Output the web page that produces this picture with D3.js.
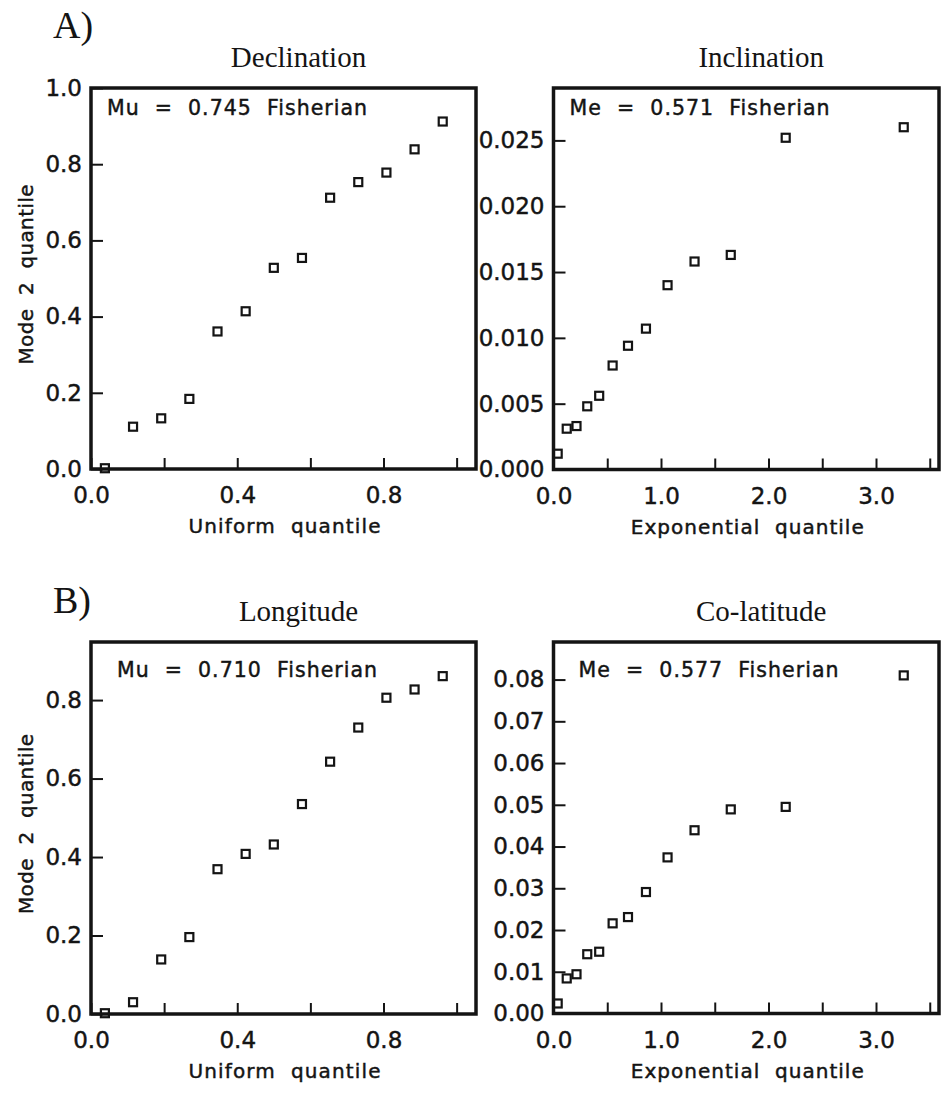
<!DOCTYPE html>
<html>
<head>
<meta charset="utf-8">
<script src="https://cdn.jsdelivr.net/npm/d3@7"></script>
<style>
  html, body { margin: 0; padding: 0; background: #fff; }
  svg { display: block; }
  text { white-space: pre; }
</style>
</head>
<body>
<svg id="chart" width="946" height="1097"></svg>
<script>
// Quantile-quantile plots of mode 2 directions against uniform / exponential reference quantiles
const uniformQuantile = [0.038, 0.115, 0.192, 0.269, 0.346, 0.423, 0.500, 0.577, 0.654, 0.731, 0.808, 0.885, 0.962];
const exponentialQuantile = [0.039, 0.123, 0.214, 0.314, 0.425, 0.550, 0.693, 0.860, 1.061, 1.312, 1.649, 2.160, 3.258];

const declinationQuantile = [0.002, 0.111, 0.133, 0.184, 0.361, 0.414, 0.528, 0.554, 0.712, 0.753, 0.778, 0.839, 0.912];
const inclinationQuantile = [0.0012, 0.0031, 0.0033, 0.0048, 0.0056, 0.0079, 0.0094, 0.0107, 0.0140, 0.0158, 0.0163, 0.0252, 0.0260];
const longitudeQuantile = [0.002, 0.030, 0.139, 0.196, 0.369, 0.408, 0.432, 0.535, 0.643, 0.730, 0.806, 0.827, 0.861];
const colatitudeQuantile = [0.0024, 0.0084, 0.0094, 0.0142, 0.0148, 0.0216, 0.0231, 0.0291, 0.0374, 0.0439, 0.0489, 0.0495, 0.0810];

const panelTitles = ["Declination", "Inclination", "Longitude", "Co-latitude"];
const statLabels = ["Mu  =  0.745  Fisherian", "Me  =  0.571  Fisherian", "Mu  =  0.710  Fisherian", "Me  =  0.577  Fisherian"];
const groupLabels = ["A)", "B)"];
const xTitles = ["Uniform  quantile", "Exponential  quantile"];
const yTitle = "Mode  2  quantile";

// Axis ticks (minor ticks unlabeled)
const uniformTicks = [0.0, 0.2, 0.4, 0.6, 0.8, 1.0];
const uniformTickLabels = [0.0, 0.4, 0.8];
const exponentialTicks = [0.0, 0.5, 1.0, 1.5, 2.0, 2.5, 3.0, 3.5];
const exponentialTickLabels = [0.0, 1.0, 2.0, 3.0];
const declinationTicks = [0.0, 0.2, 0.4, 0.6, 0.8, 1.0];
const inclinationTicks = [0.000, 0.005, 0.010, 0.015, 0.020, 0.025];
const longitudeTicks = [0.0, 0.2, 0.4, 0.6, 0.8];
const colatitudeTicks = [0.00, 0.01, 0.02, 0.03, 0.04, 0.05, 0.06, 0.07, 0.08];

// Panel layout
const SANS = "'DejaVu Sans', sans-serif";
const SERIF = "'Liberation Serif', 'Times New Roman', serif";
const INK = "#141414";
const panels = [
  { left: 91, right: 476, top: 88, bottom: 469, xMax: 1.053, yMax: 1.0,
    x: uniformQuantile, y: declinationQuantile, xt: uniformTicks, xl: uniformTickLabels, xfmt: ".1f",
    yt: declinationTicks, yfmt: ".1f", title: panelTitles[0], stat: statLabels[0], statDx: 16, statDy: 27, xTitle: xTitles[0], yTitle: true },
  { left: 553.5, right: 939, top: 88, bottom: 469.5, xMax: 3.586, yMax: 0.02898,
    x: exponentialQuantile, y: inclinationQuantile, xt: exponentialTicks, xl: exponentialTickLabels, xfmt: ".1f",
    yt: inclinationTicks, yfmt: ".3f", title: panelTitles[1], stat: statLabels[1], statDx: 16, statDy: 27, xTitle: xTitles[1], yTitle: false },
  { left: 91, right: 476, top: 642, bottom: 1014, xMax: 1.053, yMax: 0.948,
    x: uniformQuantile, y: longitudeQuantile, xt: uniformTicks, xl: uniformTickLabels, xfmt: ".1f",
    yt: longitudeTicks, yfmt: ".1f", title: panelTitles[2], stat: statLabels[2], statDx: 26, statDy: 35, xTitle: xTitles[0], yTitle: true },
  { left: 553.5, right: 939, top: 642, bottom: 1013.5, xMax: 3.586, yMax: 0.0890,
    x: exponentialQuantile, y: colatitudeQuantile, xt: exponentialTicks, xl: exponentialTickLabels, xfmt: ".1f",
    yt: colatitudeTicks, yfmt: ".2f", title: panelTitles[3], stat: statLabels[3], statDx: 25, statDy: 35, xTitle: xTitles[1], yTitle: false }
];

// Sans labels get a hairline outline so their weight follows the plotted strokes
function sansText(sel, size) {
  return sel.attr("font-family", SANS).attr("font-size", size)
    .attr("fill", INK).attr("stroke", INK).attr("stroke-width", 0.45);
}

const svg = d3.select("#chart");
svg.append("rect").attr("width", 946).attr("height", 1097).attr("fill", "#fff");

// Group labels A) and B)
[[53, 38], [53, 613]].forEach((p, i) => {
  svg.append("text").attr("x", p[0]).attr("y", p[1])
    .attr("font-family", SERIF).attr("font-size", 38).attr("fill", INK)
    .text(groupLabels[i]);
});

panels.forEach(p => {
  const xs = d3.scaleLinear().domain([0, p.xMax]).range([p.left, p.right]);
  const ys = d3.scaleLinear().domain([0, p.yMax]).range([p.bottom, p.top]);
  const g = svg.append("g");

  // Bottom axis: inward ticks, labels only on major values
  const labelSet = new Set(p.xl.map(v => v.toFixed(3)));
  const xAxis = d3.axisBottom(xs).tickValues(p.xt).tickSize(-11).tickPadding(18)
    .tickFormat(v => labelSet.has(v.toFixed(3)) ? d3.format(p.xfmt)(v) : "");
  const gx = g.append("g").attr("transform", `translate(0,${p.bottom})`).call(xAxis);
  gx.select(".domain").remove();
  gx.selectAll(".tick line").attr("stroke", INK).attr("stroke-width", 2);
  sansText(gx.selectAll(".tick text"), 23);

  // Left axis: inward ticks
  const yAxis = d3.axisLeft(ys).tickValues(p.yt).tickSize(-12).tickPadding(9)
    .tickFormat(d3.format(p.yfmt));
  const gy = g.append("g").attr("transform", `translate(${p.left},0)`).call(yAxis);
  gy.select(".domain").remove();
  gy.selectAll(".tick line").attr("stroke", INK).attr("stroke-width", 2);
  sansText(gy.selectAll(".tick text"), 23);

  // Frame
  g.append("rect")
    .attr("x", p.left).attr("y", p.top)
    .attr("width", p.right - p.left).attr("height", p.bottom - p.top)
    .attr("fill", "none").attr("stroke", INK).attr("stroke-width", 3.5);

  // Square markers
  const pts = p.x.map((xv, i) => [xv, p.y[i]]);
  g.selectAll("rect.pt").data(pts).join("rect").attr("class", "pt")
    .attr("x", d => xs(d[0]) - 4).attr("y", d => ys(d[1]) - 4)
    .attr("width", 8).attr("height", 8)
    .attr("fill", "none").attr("stroke", INK).attr("stroke-width", 2.2);

  // Panel title
  g.append("text").attr("x", (p.left + p.right) / 2 + 15).attr("y", p.top - 21)
    .attr("text-anchor", "middle").attr("font-family", SERIF).attr("font-size", 29)
    .attr("fill", INK).text(p.title);

  // Statistic annotation
  sansText(g.append("text"), 20.5)
    .attr("x", p.left + p.statDx).attr("y", p.top + p.statDy)
    .attr("textLength", 260).attr("lengthAdjust", "spacing")
    .text(p.stat);

  // X axis title
  const xTitleWidth = p.xTitle.startsWith("Uniform") ? 192 : 233;
  sansText(g.append("text"), 20)
    .attr("x", (p.left + p.right) / 2 + 1).attr("y", p.bottom + 64)
    .attr("text-anchor", "middle")
    .attr("textLength", xTitleWidth).attr("lengthAdjust", "spacing")
    .text(p.xTitle);

  // Y axis title
  if (p.yTitle) {
    const cy = (p.top + p.bottom) / 2 - 4;
    sansText(g.append("text"), 20)
      .attr("transform", `translate(33,${cy}) rotate(-90)`)
      .attr("text-anchor", "middle")
      .attr("textLength", 180).attr("lengthAdjust", "spacing")
      .text(yTitle);
  }
});
</script>
</body>
</html>
